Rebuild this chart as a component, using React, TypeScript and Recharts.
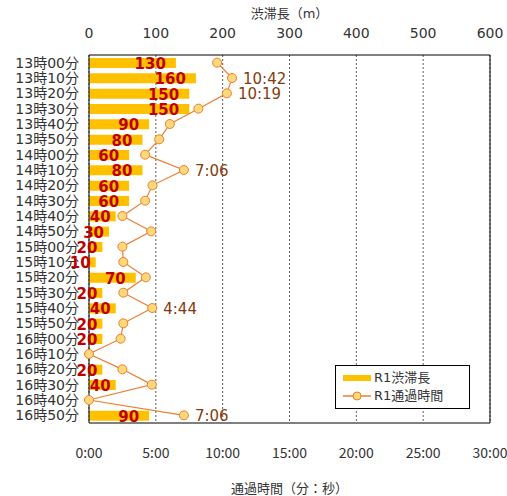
import {
  ComposedChart, Bar, Line, XAxis, YAxis, CartesianGrid, Legend, LabelList
} from "recharts";

const slots = [
  "13時00分", "13時10分", "13時20分", "13時30分", "13時40分", "13時50分",
  "14時00分", "14時10分", "14時20分", "14時30分", "14時40分", "14時50分",
  "15時00分", "15時10分", "15時20分", "15時30分", "15時40分", "15時50分",
  "16時00分", "16時10分", "16時20分", "16時30分", "16時40分", "16時50分",
];
// 渋滞長 (m)
const queueLength = [130, 160, 150, 150, 90, 80, 60, 80, 60, 60, 40, 30, 20, 10, 70, 20, 40, 20, 20, 0, 20, 40, 0, 90];
// 通過時間 (秒)
const travelSec = [575, 642, 619, 491, 363, 315, 252, 426, 285, 252, 150, 279, 150, 154, 255, 154, 284, 154, 142, 0, 150, 282, 0, 426];
const labeledSlots = ["13時10分", "13時20分", "14時10分", "15時40分", "16時50分"];
const lengthTicks = [0, 100, 200, 300, 400, 500, 600];
const timeTicks = [0, 300, 600, 900, 1200, 1500, 1800];

const FONT = '"DejaVu Sans", "Noto Sans CJK JP", sans-serif';
const FONT_NARROW = '"Noto Sans CJK JP", "Noto Sans", sans-serif';

const fmtTime = (s: number) => {
  const m = Math.floor(s / 60);
  const sec = Math.round(s - m * 60);
  return `${m}:${String(sec).padStart(2, "0")}`;
};

const data = slots.map((slot, i) => ({
  slot,
  len: queueLength[i],
  sec: travelSec[i],
  timeLabel: labeledSlots.includes(slot) ? fmtTime(travelSec[i]) : "",
}));

function BarValue(props: any) {
  const { x, y, width, height, value } = props;
  if (!value) return null;
  const off = value >= 60 ? 10 : 5;
  return (
    <text x={x + width - off} y={y + height / 2 + 1} textAnchor="end" dominantBaseline="central"
      fill="#c00000" fontSize={15} fontWeight="bold" fontFamily={FONT}>
      {value}
    </text>
  );
}

function TimeValue(props: any) {
  const { x, y, value } = props;
  if (!value) return null;
  return (
    <text x={x + 11} y={y + 1} dominantBaseline="central" fill="#843c0c" fontSize={15} fontFamily={FONT}>
      {value}
    </text>
  );
}

function LegendBox() {
  return (
    <div style={{
      width: 126, border: "1px solid #000", background: "#fff", padding: "3px 0 3px 7px",
      fontSize: 13, lineHeight: "18px", color: "#333", fontFamily: FONT,
    }}>
      <div style={{ display: "flex", alignItems: "center" }}>
        <span style={{ width: 28, height: 6, background: "#ffc000", marginRight: 3, display: "inline-block" }} />
        R1渋滞長
      </div>
      <div style={{ display: "flex", alignItems: "center" }}>
        <svg width={28} height={10} style={{ marginRight: 3 }}>
          <line x1={0} y1={5} x2={28} y2={5} stroke="#ed7d31" strokeWidth={1.5} />
          <circle cx={14} cy={5} r={4} fill="#ffd97a" stroke="#ed7d31" strokeWidth={1} />
        </svg>
        R1通過時間
      </div>
    </div>
  );
}

export default function App() {
  return (
    <div style={{ position: "absolute", left: 0, top: 0, background: "#fff" }}>
      <ComposedChart
        width={507}
        height={496}
        data={data}
        layout="vertical"
        margin={{ top: 0, right: 16, bottom: 0, left: 0 }}
        style={{ fontFamily: FONT }}
      >
        <CartesianGrid horizontal={false} xAxisId="time" stroke="#333" strokeDasharray="2 2" strokeWidth={0.8} />
        <XAxis
          xAxisId="len"
          orientation="top"
          type="number"
          domain={[0, 600]}
          ticks={lengthTicks}
          height={55}
          tickLine={false}
          tickMargin={11}
          axisLine={{ stroke: "#000" }}
          tick={{ fontSize: 14, fill: "#333", fontFamily: FONT }}
          label={{ value: "渋滞長（m）", position: "insideTop", offset: 9, fontSize: 13, fill: "#333" }}
        />
        <XAxis
          xAxisId="time"
          orientation="bottom"
          type="number"
          domain={[0, 1800]}
          ticks={timeTicks}
          tickFormatter={(v: number) => `${v / 60}:00`}
          height={73}
          tickLine={false}
          tickMargin={19}
          axisLine={{ stroke: "#000" }}
          tick={{ fontSize: 14, fill: "#333", fontFamily: FONT_NARROW }}
          label={{ value: "通過時間（分：秒）", position: "insideBottom", offset: 3, fontSize: 13, fill: "#333" }}
        />
        <YAxis
          type="category"
          dataKey="slot"
          width={89}
          interval={0}
          tickLine={false}
          tickMargin={4}
          axisLine={{ stroke: "#000" }}
          tick={{ fontSize: 14, fill: "#333", fontFamily: FONT }}
        />
        <YAxis
          yAxisId="right"
          orientation="right"
          type="category"
          dataKey="slot"
          width={1}
          tick={false}
          tickLine={false}
          axisLine={{ stroke: "#000" }}
        />
        <Legend
          layout="horizontal"
          verticalAlign="middle"
          align="center"
          content={() => <LegendBox />}
          wrapperStyle={{ left: 335, top: 365, width: "auto" }}
        />
        <Bar dataKey="len" name="R1渋滞長" xAxisId="len" fill="#ffc000" barSize={10} isAnimationActive={false}>
          <LabelList dataKey="len" content={BarValue} />
        </Bar>
        <Line
          dataKey="sec"
          name="R1通過時間"
          xAxisId="time"
          type="linear"
          stroke="#ed7d31"
          strokeWidth={1.2}
          dot={{ r: 4.5, fill: "#ffd97a", stroke: "#ed7d31", strokeWidth: 1 }}
          isAnimationActive={false}
        >
          <LabelList dataKey="timeLabel" content={TimeValue} />
        </Line>
      </ComposedChart>
    </div>
  );
}
